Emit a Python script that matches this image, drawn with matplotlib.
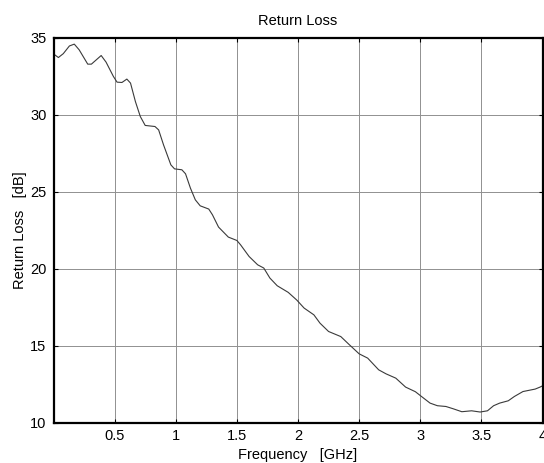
import matplotlib
matplotlib.use("Agg")
import matplotlib.pyplot as plt
import numpy as np

plt.rcParams['font.family'] = ['Liberation Sans', 'DejaVu Sans']

# frequency [GHz] and return loss [dB]
freq = [0.006, 0.04, 0.08, 0.13, 0.17, 0.21, 0.28, 0.31, 0.35, 0.39, 0.43,
        0.49, 0.52, 0.56, 0.60, 0.63, 0.67, 0.71, 0.75, 0.83, 0.86, 0.90,
        0.96, 0.99, 1.05, 1.08, 1.12, 1.16, 1.20, 1.27, 1.30, 1.35, 1.43,
        1.50, 1.53, 1.60, 1.67, 1.72, 1.77, 1.83, 1.92, 1.99, 2.05, 2.13,
        2.18, 2.25, 2.35, 2.42, 2.50, 2.57, 2.66, 2.72, 2.80, 2.88, 2.96,
        3.01, 3.08, 3.14, 3.21, 3.27, 3.34, 3.42, 3.49, 3.55, 3.60, 3.65,
        3.72, 3.77, 3.84, 3.94, 3.98, 4.0]
rl = [33.9, 33.7, 33.95, 34.45, 34.57, 34.2, 33.27, 33.27, 33.55, 33.83, 33.4,
      32.47, 32.1, 32.08, 32.3, 32.04, 30.84, 29.87, 29.29, 29.22, 29.0, 28.03,
      26.73, 26.47, 26.41, 26.15, 25.22, 24.46, 24.07, 23.86, 23.49, 22.69, 22.04,
      21.82, 21.54, 20.78, 20.24, 20.03, 19.38, 18.88, 18.45, 17.95, 17.43, 16.99,
      16.45, 15.91, 15.58, 15.05, 14.46, 14.18, 13.42, 13.16, 12.88, 12.30, 12.0,
      11.69, 11.26, 11.09, 11.04, 10.89, 10.70, 10.76, 10.68, 10.76, 11.09, 11.26,
      11.41, 11.69, 12.01, 12.17, 12.30, 12.38]

xticks = [0.5, 1, 1.5, 2, 2.5, 3, 3.5, 4]
xticklabels = ['0.5', '1', '1.5', '2', '2.5', '3', '3.5', '4']
yticks = [10, 15, 20, 25, 30, 35]

fig = plt.figure(figsize=(5.44, 4.63), dpi=100)
ax = fig.add_axes([53.5 / 544, 40.5 / 463, 489 / 544, 385 / 463])

ax.plot(freq, rl, color='#3a3a3a', lw=0.8)

ax.set_xlim(0.0, 4)
ax.set_ylim(10, 35)
ax.set_xticks(xticks)
ax.set_xticklabels(xticklabels)
ax.set_yticks(yticks)
ax.grid(True, color='#909090', lw=0.7, ls='-')
ax.tick_params(direction='in', length=3, width=0.8, top=True, right=True,
               labelsize=10.5, pad=5)
for s in ax.spines.values():
    s.set_linewidth(1.6)
    s.set_color('black')

ax.set_title('Return Loss', fontsize=10.5, pad=9)
ax.set_xlabel('Frequency   [GHz]', fontsize=10.5, labelpad=3.5)
ax.set_ylabel('Return Loss   [dB]', fontsize=10.5, labelpad=2)

fig.savefig('out.png', dpi=100)
